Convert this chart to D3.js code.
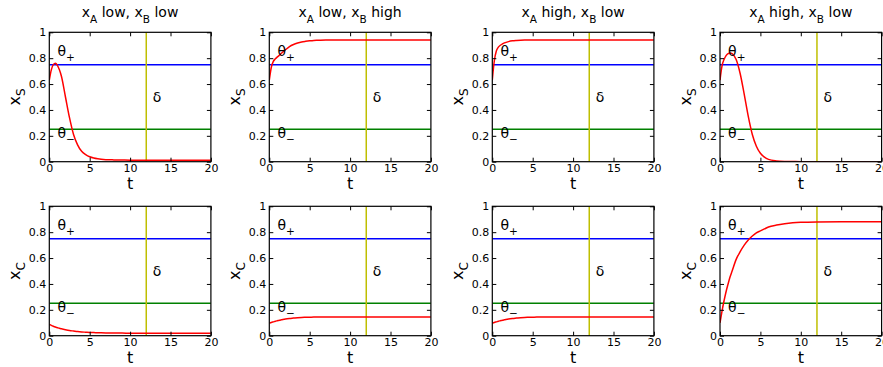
<!DOCTYPE html>
<html><head><meta charset="utf-8">
<script src="https://cdn.jsdelivr.net/npm/d3@7"></script>
<style>
html,body{margin:0;padding:0;background:#fff;}
svg{display:block;font-family:"DejaVu Sans",sans-serif;}
</style></head>
<body>
<svg id="chart" width="883" height="367"></svg>
<script>
// ---- data ----
const titlesA = ["low", "low", "high", "high"];
const titlesB = ["low", "high", "low", "low"];
const rowVars = ["S", "C"];
const tValues = [0,0.25,0.5,0.75,1,1.25,1.5,2,2.5,3,3.5,4,4.5,5,5.5,6,7,8,9,10,12,15,20];
const xS_lowlow   = [0.63,0.71,0.75,0.76,0.745,0.71,0.66,0.50,0.34,0.21,0.13,0.08,0.055,0.038,0.028,0.022,0.016,0.014,0.013,0.012,0.012,0.012,0.012];
const xS_lowhigh  = [0.63,0.73,0.775,0.795,0.81,0.823,0.838,0.865,0.89,0.906,0.917,0.925,0.93,0.934,0.937,0.938,0.94,0.94,0.94,0.94,0.94,0.94,0.94];
const xS_highlow  = [0.63,0.78,0.855,0.885,0.90,0.91,0.918,0.928,0.934,0.937,0.939,0.94,0.94,0.94,0.94,0.94,0.94,0.94,0.94,0.94,0.94,0.94,0.94];
const xS_highlow2 = [0.63,0.74,0.79,0.82,0.835,0.84,0.835,0.79,0.68,0.52,0.35,0.21,0.12,0.065,0.035,0.018,0.006,0.002,0.001,0,0,0,0];
const xC_lowlow   = [0.088,0.08,0.073,0.067,0.062,0.057,0.053,0.046,0.04,0.036,0.032,0.029,0.027,0.025,0.024,0.023,0.021,0.02,0.02,0.019,0.019,0.019,0.019];
const xC_lowhigh  = [0.096,0.102,0.107,0.112,0.116,0.12,0.123,0.129,0.133,0.136,0.139,0.141,0.142,0.143,0.144,0.144,0.145,0.145,0.145,0.145,0.145,0.145,0.145];
const xC_highlow  = [0.096,0.102,0.107,0.112,0.116,0.12,0.123,0.129,0.133,0.136,0.139,0.141,0.142,0.143,0.144,0.144,0.145,0.145,0.145,0.145,0.145,0.145,0.145];
const xC_highlow2 = [0.10,0.19,0.27,0.34,0.40,0.455,0.50,0.59,0.65,0.70,0.74,0.77,0.795,0.81,0.825,0.84,0.855,0.865,0.872,0.876,0.879,0.88,0.88];
const seriesRows = [[xS_lowlow, xS_lowhigh, xS_highlow, xS_highlow2],
                    [xC_lowlow, xC_lowhigh, xC_highlow, xC_highlow2]];
const thetaPlus = 0.75, thetaMinus = 0.25, deltaT = 12;
const xTicks = [0,5,10,15,20];
const yTicks = [0,0.2,0.4,0.6,0.8,1];

// ---- layout ----
const lefts = [49.3, 269.3, 492.3, 720];
const tops = [32.3, 206.3];
const pw = 161.6, ph = 129.4;

const svg = d3.select("#chart");
const fmtY = d => d === 0 ? "0" : (d === 1 ? "1" : d3.format(".1f")(d));

rowVars.forEach((rv, r) => {
  lefts.forEach((lx, c) => {
    const g = svg.append("g").attr("transform", `translate(${lx},${tops[r]})`);
    const x = d3.scaleLinear().domain([0,20]).range([0,pw]);
    const y = d3.scaleLinear().domain([0,1]).range([ph,0]);
    const clipId = `clip${r}${c}`;
    g.append("clipPath").attr("id", clipId).append("rect").attr("width", pw).attr("height", ph);
    const pg = g.append("g").attr("clip-path", `url(#${clipId})`);

    // threshold lines
    pg.append("line").attr("x1", x(0)).attr("x2", x(20)).attr("y1", y(thetaPlus)).attr("y2", y(thetaPlus))
      .attr("stroke", "#0000ff").attr("stroke-width", 1.5);
    pg.append("line").attr("x1", x(0)).attr("x2", x(20)).attr("y1", y(thetaMinus)).attr("y2", y(thetaMinus))
      .attr("stroke", "#008000").attr("stroke-width", 1.5);
    pg.append("line").attr("x1", x(deltaT)).attr("x2", x(deltaT)).attr("y1", y(0)).attr("y2", y(1))
      .attr("stroke", "#bfbf00").attr("stroke-width", 1.5);

    const vals = seriesRows[r][c];
    const line = d3.line().x((d,i) => x(tValues[i])).y(d => y(d)).curve(d3.curveMonotoneX);
    pg.append("path").datum(vals).attr("d", line).attr("fill", "none")
      .attr("stroke", "#ff0000").attr("stroke-width", 1.5);

    // texts
    const addSub = (tx, ty, main, sub, fs) => {
      const t = g.append("text").attr("x", tx).attr("y", ty).attr("font-size", fs).attr("fill", "#000");
      t.append("tspan").text(main);
      t.append("tspan").attr("dy", 5).attr("font-size", fs*0.75).text(sub);
      return t;
    };
    addSub(x(1), y(0.82), "θ", "+", 14);
    addSub(x(1), y(0.18), "θ", "−", 14);
    g.append("text").attr("x", x(12.8)).attr("y", y(0.46)).attr("font-size", 14).text("δ");

    // axes
    const tick = 4;
    const ax = g.append("g").attr("transform", `translate(0,${ph})`)
      .call(d3.axisBottom(x).tickValues(xTicks).tickSize(-tick).tickPadding(4).tickFormat(d3.format("d")));
    const axTop = g.append("g").call(d3.axisTop(x).tickValues(xTicks).tickSize(-tick).tickFormat(""));
    const ay = g.append("g").call(d3.axisLeft(y).tickValues(yTicks).tickSize(-tick).tickPadding(3).tickFormat(fmtY));
    const ayR = g.append("g").attr("transform", `translate(${pw},0)`)
      .call(d3.axisRight(y).tickValues(yTicks).tickSize(-tick).tickFormat(""));
    [ax, axTop, ay, ayR].forEach(a => {
      a.select(".domain").remove();
      a.selectAll("line").attr("stroke", "#000").attr("stroke-width", 1);
      a.selectAll("text").attr("font-size", 11).attr("fill", "#000").attr("font-family", "DejaVu Sans");
    });
    ay.selectAll("text").attr("x", -3).attr("dx", 0);
    ax.selectAll("text").attr("y", 3);
    g.append("rect").attr("width", pw).attr("height", ph).attr("fill", "none")
      .attr("stroke", "#000").attr("stroke-width", 1.2);

    // axis labels
    g.append("text").attr("x", pw/2).attr("y", ph + 27).attr("text-anchor", "middle")
      .attr("font-size", 16).text("t");
    const yl = g.append("text").attr("transform", `translate(${-29},${ph/2}) rotate(-90)`)
      .attr("text-anchor", "middle").attr("font-size", 16);
    yl.append("tspan").text("x");
    yl.append("tspan").attr("dy", 5).attr("font-size", 12).text(rv);

    if (r === 0) {
      const tt = g.append("text").attr("x", pw/2).attr("y", -15.5).attr("text-anchor", "middle").attr("font-size", 14);
      tt.append("tspan").text("x");
      tt.append("tspan").attr("dy", 6).attr("font-size", 10.5).text("A");
      tt.append("tspan").attr("dy", -6).text(" " + titlesA[c] + ", x");
      tt.append("tspan").attr("dy", 6).attr("font-size", 10.5).text("B");
      tt.append("tspan").attr("dy", -6).text(" " + titlesB[c]);
    }
  });
});
</script>
</body></html>
